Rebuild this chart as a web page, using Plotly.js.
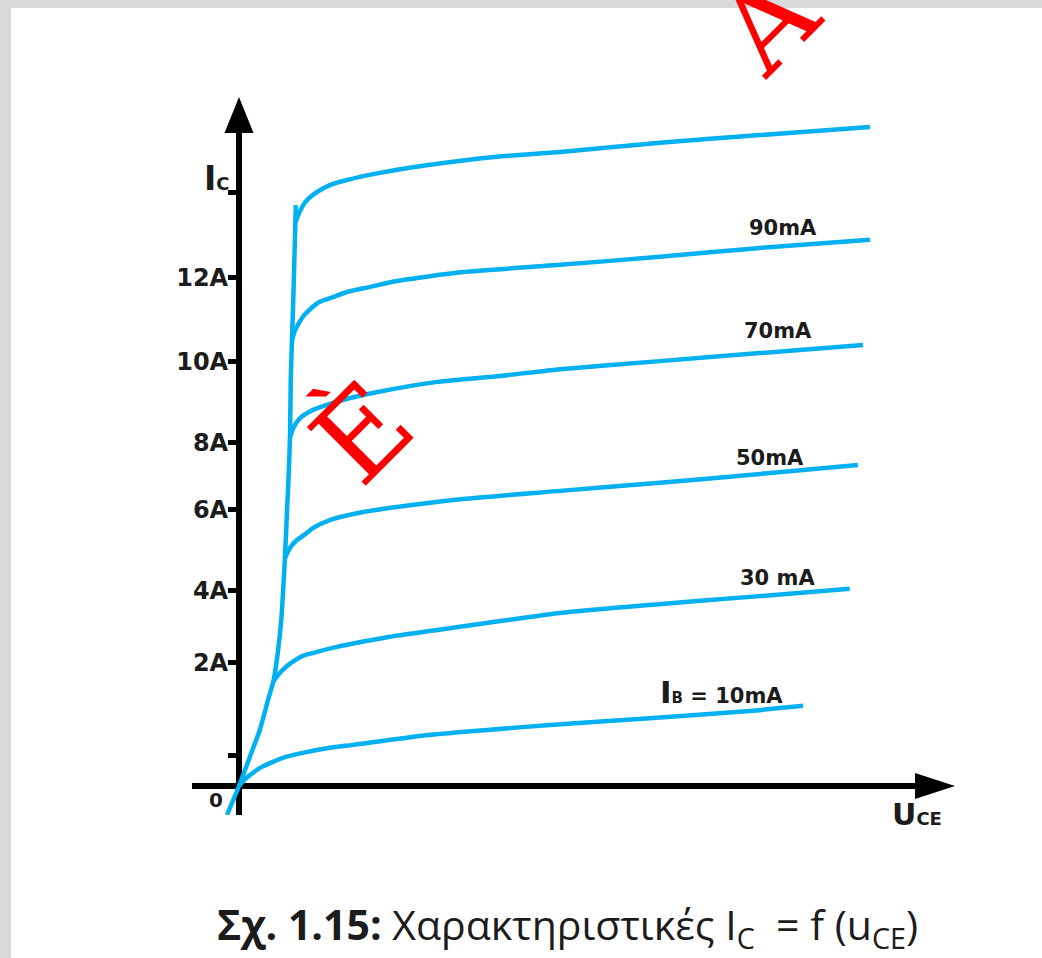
<!DOCTYPE html>
<html>
<head>
<meta charset="utf-8">
<script src="https://cdn.plot.ly/plotly-3.0.1.min.js"></script>
<style>
  html, body { margin: 0; padding: 0; background: #ffffff; }
  #chart { width: 1042px; height: 958px; }
</style>
</head>
<body>
<div id="chart"></div>
<script>
// Output characteristics of a power transistor: I_C (A) against U_CE for several base currents.

// Saturation boundary: the steep rise from the origin where every curve branches off
const satU = [-0.19, 0, 0.17, 0.33, 0.46, 0.55, 0.62, 0.67, 0.70, 0.73, 0.76, 0.79, 0.81, 0.82, 0.86, 0.89, 0.90];
const satI = [-0.68, 0, 0.68, 1.32, 2.03, 2.50, 3.21, 3.92, 4.62, 5.45, 6.44, 7.45, 8.33, 9.58, 11.46, 13.11, 13.70];

// I_B = 10 mA
const ib10U = [0, 0.10, 0.22, 0.36, 0.49, 0.73, 1.01, 1.44, 1.81, 2.87, 3.93, 4.93, 6.51, 8.10, 8.94];
const ib10I = [0, 0.17, 0.31, 0.45, 0.54, 0.68, 0.78, 0.90, 0.97, 1.18, 1.32, 1.44, 1.60, 1.77, 1.89];

// I_B = 30 mA
const ib30U = [0.55, 0.65, 0.76, 0.89, 1.01, 1.28, 1.55, 1.95, 2.35, 3.14, 4.14, 5.09, 6.51, 8.10, 9.68];
const ib30I = [2.48, 2.67, 2.83, 2.97, 3.07, 3.18, 3.28, 3.40, 3.51, 3.68, 3.89, 4.08, 4.27, 4.46, 4.65];

// I_B = 50 mA
const ib50U = [0.73, 0.78, 0.84, 0.92, 1.05, 1.17, 1.44, 1.97, 2.50, 3.55, 5.09, 6.67, 8.26, 9.81];
const ib50I = [5.38, 5.54, 5.68, 5.80, 5.94, 6.08, 6.27, 6.46, 6.58, 6.77, 6.96, 7.15, 7.36, 7.57];

// I_B = 70 mA
const ib70U = [0.81, 0.86, 0.97, 1.13, 1.44, 1.76, 2.12, 3.14, 4.14, 5.09, 6.67, 8.26, 9.89];
const ib70I = [8.23, 8.44, 8.68, 8.84, 9.01, 9.15, 9.27, 9.53, 9.67, 9.83, 10.02, 10.21, 10.40];

// I_B = 90 mA
const ib90U = [0.84, 0.89, 1.01, 1.13, 1.28, 1.49, 1.71, 2.08, 2.50, 3.55, 5.09, 6.67, 8.26, 10.00];
const ib90I = [10.52, 10.75, 11.06, 11.25, 11.42, 11.53, 11.65, 11.77, 11.91, 12.12, 12.29, 12.48, 12.69, 12.88];

// highest (unlabelled) base current
const ibTopU = [0.90, 0.94, 1.05, 1.24, 1.44, 1.71, 2.23, 3.03, 4.09, 5.09, 6.67, 8.26, 10.00];
const ibTopI = [13.30, 13.47, 13.77, 14.01, 14.17, 14.29, 14.46, 14.65, 14.84, 14.95, 15.17, 15.35, 15.54];

// vertical-axis ticks (the scale marks are not evenly spaced)
const tickVals = [0.71, 2.92, 4.60, 6.53, 8.11, 10.00, 12.00, 13.99];
const tickText = ['', '2A', '4A', '6A', '8A', '10A', '12A', ''];

// curve labels
const curveLabels = ['90mA', '70mA', '50mA', '30 mA', 'I<span style="font-size:15px">B</span> = 10mA'];

const W = 1042, H = 958;
const M = { l: 192, r: 97, t: 105, b: 143 };
const xRange = [-0.745, 11.19];
const yRange = [-0.684, 16.06];

// page pixel -> paper fraction helpers (for decorations outside the data)
const pw = W - M.l - M.r, ph = H - M.t - M.b;
const paperX = px => (px - M.l) / pw;
const paperY = py => (H - M.b - py) / ph;
const yAxisPos = (0 - xRange[0]) / (xRange[1] - xRange[0]);
const xAxisPos = (0 - yRange[0]) / (yRange[1] - yRange[0]);

const BLUE = '#00b0f0';
const INK = '#1c1c1c';
const lineStyle = { color: BLUE, width: 4.5, shape: 'spline', smoothing: 0.6 };

const series = [
  [satU, satI], [ib10U, ib10I], [ib30U, ib30I], [ib50U, ib50I],
  [ib70U, ib70I], [ib90U, ib90I], [ibTopU, ibTopI]
];
const traces = series.map(([u, i]) => ({
  x: u, y: i, type: 'scatter', mode: 'lines', line: lineStyle, hoverinfo: 'skip'
}));

const labelFont = { family: 'DejaVu Sans', size: 21, color: INK, weight: 'bold' };
const labelPos = [[8.62, 13.16], [8.54, 10.73], [8.42, 7.74], [8.53, 4.91], [7.65, 2.22]];
const annotations = curveLabels.map((t, k) => ({
  x: labelPos[k][0], y: labelPos[k][1], xref: 'x', yref: 'y',
  text: k === 4 ? '<span style="font-size:31px">I</span>' + t.slice(1) : t,
  showarrow: false, font: labelFont, xanchor: 'center', yanchor: 'middle'
}));

const redFont = { family: 'DejaVu Serif', size: 114, color: '#ff0000' };
annotations.push(
  // axis names
  { x: paperX(217), y: paperY(178), xref: 'paper', yref: 'paper', showarrow: false,
    text: 'I<span style="font-size:18px">C</span>', xanchor: 'center', yanchor: 'middle',
    font: { family: 'DejaVu Sans', size: 33, color: INK, weight: 'bold' } },
  { x: paperX(917), y: paperY(814), xref: 'paper', yref: 'paper', showarrow: false,
    text: 'U<span style="font-size:18px">CE</span>', xanchor: 'center', yanchor: 'middle',
    font: { family: 'DejaVu Sans', size: 30, color: INK, weight: 'bold' } },
  { x: paperX(216), y: paperY(800), xref: 'paper', yref: 'paper', showarrow: false,
    text: '0', xanchor: 'center', yanchor: 'middle',
    font: { family: 'DejaVu Sans', size: 20, color: INK, weight: 'bold' } },
  // caption
  { x: paperX(567), y: paperY(926), xref: 'paper', yref: 'paper', showarrow: false,
    text: '<b>Σχ. 1.15:</b> Χαρακτηριστικές I<sub>C</sub>  = f (u<sub>CE</sub>)',
    xanchor: 'center', yanchor: 'middle',
    font: { family: 'Open Sans', size: 41, color: INK } },
  // red point letters
  { x: paperX(768), y: paperY(23), xref: 'paper', yref: 'paper', showarrow: false,
    text: 'Α', textangle: -45, xanchor: 'center', yanchor: 'middle', font: redFont },
  { x: paperX(362), y: paperY(433), xref: 'paper', yref: 'paper', showarrow: false,
    text: 'È', textangle: -45, xanchor: 'center', yanchor: 'middle', font: redFont }
);

const shapes = [
  // grey frame along the top and left edges
  { type: 'rect', xref: 'paper', yref: 'paper', layer: 'below',
    x0: paperX(0), x1: paperX(W), y0: paperY(0), y1: paperY(8),
    fillcolor: '#d9d9d9', line: { width: 0 } },
  { type: 'rect', xref: 'paper', yref: 'paper', layer: 'below',
    x0: paperX(0), x1: paperX(11), y0: paperY(0), y1: paperY(H),
    fillcolor: '#d9d9d9', line: { width: 0 } },
  // arrow heads at the ends of both axes
  { type: 'path', xref: 'paper', yref: 'paper', xsizemode: 'pixel', ysizemode: 'pixel',
    xanchor: yAxisPos, yanchor: 1, path: 'M-14.5,-28 L14.5,-28 L0,8 Z',
    fillcolor: '#000000', line: { width: 0 } },
  { type: 'path', xref: 'paper', yref: 'paper', xsizemode: 'pixel', ysizemode: 'pixel',
    xanchor: 1, yanchor: xAxisPos, path: 'M-30,13 L-30,-13 L10,0 Z',
    fillcolor: '#000000', line: { width: 0 } }
];

const layout = {
  width: W, height: H,
  margin: M,
  paper_bgcolor: '#ffffff', plot_bgcolor: 'rgba(0,0,0,0)',
  showlegend: false,
  xaxis: {
    range: xRange, showgrid: false, showticklabels: false, ticks: '',
    showline: false, zeroline: true, zerolinecolor: '#000000', zerolinewidth: 6
  },
  yaxis: {
    range: yRange, anchor: 'free', position: yAxisPos,
    showgrid: false, showline: false,
    zeroline: true, zerolinecolor: '#000000', zerolinewidth: 6,
    tickmode: 'array', tickvals: tickVals, ticktext: tickText,
    ticks: 'outside', ticklen: 11, tickwidth: 5, tickcolor: '#000000',
    ticklabelstandoff: -5,
    tickfont: { family: 'DejaVu Sans', size: 24, color: INK, weight: 'bold' }
  },
  annotations: annotations,
  shapes: shapes
};

Plotly.newPlot('chart', traces, layout, { staticPlot: true, displayModeBar: false });
</script>
</body>
</html>
